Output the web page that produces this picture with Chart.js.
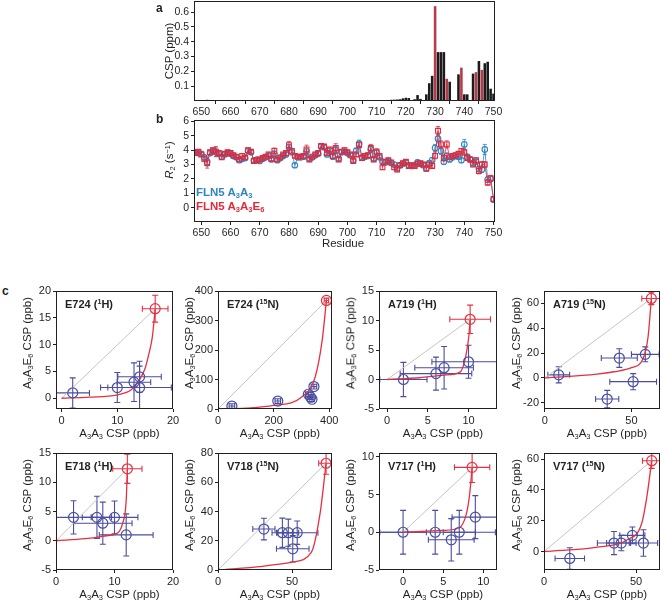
<!DOCTYPE html>
<html>
<head>
<meta charset="utf-8">
<script src="https://cdn.jsdelivr.net/npm/chart.js"></script>
<style>
  body { margin: 0; width: 662px; height: 602px; overflow: hidden; background: #fff; position: relative;
         font-family: 'Liberation Sans', Arial, sans-serif; color: #231f20; }
  .box { position: absolute; }
  .t { position: absolute; white-space: nowrap; line-height: 1; transform: translate(0, -50%); }
  .ctr { position: absolute; white-space: nowrap; line-height: 1; transform: translate(-50%, -50%); }
  .rot { position: absolute; white-space: nowrap; line-height: 1; transform: translate(-50%, -50%) rotate(-90deg); }
  sub { font-size: 0.65em; vertical-align: -0.3em; line-height: 0; }
  sup { font-size: 0.65em; vertical-align: 0.45em; line-height: 0; }
  .ttl { font-weight: bold; font-size: 11px; }
  .ax { font-size: 11.5px; }
</style>
</head>
<body>
<script>
// ---------- panel a / b : per-residue data (residues 648..750) ----------
const residues = [];
for (let r = 648; r <= 750; r++) residues.push(r);

// CSP (ppm)
const csp = [
  .004,.003,.002,.006,.008,.005,.006,.004,.003,.002,
  .004,.007,.003,.002,.003,.002,.004,.003,.002,.003,
  .002,.004,.003,.002,.003,.004,.002,.003,.002,.004,
  .003,.006,.005,.004,.003,.002,.004,.003,.002,.005,
  .003,.002,.003,.004,.003,.002,.003,.004,.003,.002,
  .004,.003,.003,.004,.002,.003,.002,.003,.004,.007,
  .006,.004,.003,.005,.004,.006,.006,.008,.009,.010,
  .012,.018,.022,.020,.006,.012,.040,.014,.004,.045,
  .120,.170,.640,.330,.330,.330,.150,.130,0,0,
  .180,.225,.045,.045,0,.185,.195,.270,.210,.255,
  .265,.083,.050
];
const cspRedResidues = [730, 734, 739, 744, 746];

// R2 (s-1)
const r2Blue = [
  3.85,3.8,3.75,3.5,3.2,3.8,3.95,3.85,3.75,3.55,
  3.7,3.8,3.75,3.6,3.5,3.3,3.4,3.45,3.95,3.85,
  3.3,3.35,3.25,3.4,3.5,3.6,3.35,3.75,3.3,3.45,
  3.6,3.7,4.2,3.85,2.95,3.5,3.5,3.55,3.9,3.4,
  3.5,3.65,3.75,4.25,4.2,3.7,3.95,3.55,4.0,3.4,
  3.85,3.9,3.8,3.65,3.3,3.95,4.45,3.5,3.55,3.6,
  4.05,3.4,3.8,3.5,3.2,3.15,3.25,3.1,3.0,2.75,
  2.95,3.05,3.15,2.95,2.9,2.95,3.15,3.05,2.95,2.75,
  3.1,3.3,4.15,4.8,3.95,3.2,3.6,3.35,3.5,3.6,
  3.55,3.3,4.4,3.55,3.35,3.1,3.2,2.7,2.65,4.05,
  1.95,2.0,0.55
];
const r2BlueErr = [
  .15,.15,.12,.2,.3,.15,.15,.3,.12,.15,
  .12,.15,.12,.12,.15,.12,.15,.12,.15,.12,
  .12,.12,.15,.12,.15,.15,.12,.2,.12,.15,
  .12,.15,.2,.15,.15,.12,.12,.12,.25,.12,
  .12,.15,.12,.15,.15,.12,.15,.15,.25,.12,
  .15,.15,.15,.12,.12,.2,.25,.12,.12,.15,
  .2,.12,.2,.15,.15,.15,.12,.12,.15,.15,
  .12,.12,.15,.12,.12,.12,.15,.12,.12,.15,
  .15,.2,.25,.3,.25,.2,.2,.15,.15,.15,
  .15,.15,.35,.15,.15,.15,.15,.2,.2,.35,
  .2,.2,.15
];
const r2Red = [
  3.8,3.9,3.7,3.4,3.1,3.85,4.0,3.9,3.8,3.5,
  3.75,3.85,3.8,3.65,3.55,3.35,3.6,3.5,4.0,3.9,
  3.25,3.3,3.35,3.45,3.55,3.7,3.4,3.95,3.35,3.5,
  3.7,3.8,4.35,3.95,3.6,3.55,3.55,3.6,4.05,3.35,
  3.55,3.7,3.8,4.3,4.25,3.8,4.05,3.6,4.15,3.35,
  3.9,4.0,3.85,3.7,3.25,3.7,4.35,3.45,3.6,3.65,
  4.15,3.35,3.9,3.6,2.8,3.2,3.3,3.15,2.8,2.65,
  2.95,3.1,3.2,2.9,2.95,2.9,3.05,3.1,3.0,2.7,
  3.0,2.9,3.6,5.35,4.4,3.45,4.4,3.5,3.6,3.65,
  3.75,3.95,3.85,3.45,3.35,3.0,3.3,2.55,3.0,3.0,
  1.75,2.05,0.6
];
const r2RedErr = [
  .15,.15,.12,.2,.35,.15,.15,.35,.12,.15,
  .12,.15,.12,.12,.15,.12,.15,.12,.15,.12,
  .12,.12,.15,.12,.15,.15,.12,.2,.12,.15,
  .12,.15,.25,.15,.12,.12,.12,.12,.3,.12,
  .12,.15,.12,.15,.15,.12,.15,.15,.3,.12,
  .15,.15,.15,.12,.12,.15,.2,.12,.12,.15,
  .25,.12,.2,.15,.15,.15,.12,.12,.15,.15,
  .12,.12,.15,.12,.12,.12,.15,.12,.12,.15,
  .15,.15,.2,.3,.25,.2,.25,.15,.15,.15,
  .15,.15,.2,.15,.15,.15,.15,.2,.2,.2,
  .2,.2,.15
];

const residueTicks = [650, 660, 670, 680, 690, 700, 710, 720, 730, 740, 750];
const cspTicks = [0.1, 0.2, 0.3, 0.4, 0.5, 0.6];
const r2Ticks = [0, 1, 2, 3, 4, 5, 6];

// ---------- panel c : [x, y, xErr, yErr] per point, fit curve [x, y] ----------
const e724H_blue = [[2,1,3,2.8],[10,2,3,2.8],[13,3,3,3.6],[14,4,3.9,2.9],[14,2,5.7,4]];
const e724H_red = [16.8,16.7,2.3,2.5];
const e724H_fit = [[0,0],[5,0.2],[10,0.65],[12.5,1.6],[14,3.5],[15,5.6],[15.7,8.4],[16.3,11.5],[16.8,16.7]];
const e724H_xTicks = [0,10,20], e724H_yTicks = [0,5,10,15,20];

const e724N_blue = [[50,10,10,8],[215,27,10,8],[325,50,10,8],[333,40,8,8],[338,33,8,8],[345,76,10,8]];
const e724N_red = [390,368,8,8];
const e724N_fit = [[0,0],[100,3],[200,12],[300,40],[350,110],[375,235],[390,368]];
const e724N_xTicks = [0,200,400], e724N_yTicks = [0,100,200,300,400];

const a719H_blue = [[2,0,2.9,2.9],[6,1,4.4,2.8],[7,2,3.6,3.6],[10,3,4.5,2.8]];
const a719H_red = [10.2,10.2,2.5,2.4];
const a719H_fit = [[0,0],[4,0.3],[7,0.75],[9,1.3],[9.5,3],[9.8,5],[10.05,7.5],[10.2,10.2]];
const a719H_xTicks = [0,5,10], a719H_yTicks = [-5,0,5,10,15];

const a719N_blue = [[8,2.5,6.3,6.5],[43,16,10.4,7.5],[58,19,8,6],[51,-3,13.5,6.5],[36,-17,6.7,7]];
const a719N_red = [61.5,64,5.5,5];
const a719N_fit = [[0,0],[30,3],[40,5],[50,8.3],[56.7,15.5],[59.6,33],[61.5,64]];
const a719N_xTicks = [0,50], a719N_yTicks = [-20,0,20,40,60];

const e718H_blue = [[3,4,3.2,2.85],[7,4,2.5,3.6],[8,3,5,3.6],[10,4,4,2.8],[12,1,4.6,3.6]];
const e718H_red = [12.2,12.3,2.5,2.5];
const e718H_fit = [[0,0],[5,0.35],[9,0.9],[10,1.1],[11.4,3],[12,6.9],[12.2,12.3]];
const e718H_xTicks = [0,10,20], e718H_yTicks = [-5,0,5,10,15];

const v718N_blue = [[31,28,7.5,7.4],[43.5,25.5,7,10],[47.5,25.5,7,9.3],[53.5,25.5,14,8],[50.5,14.5,11,9]];
const v718N_red = [73,73,5,7.5];
const v718N_fit = [[0,0],[30,2.5],[40,3.8],[50,5.4],[63,12],[69,39],[73,73]];
const v718N_xTicks = [0,50], v718N_yTicks = [0,20,40,60,80];

const v717H_blue = [[0,0,2.9,2.9],[4,0,7.5,2.9],[6,-1,2.85,2.8],[7,0,2,2.9],[9,2,2.9,2.85]];
const v717H_red = [8.6,8.6,2.2,2.0];
const v717H_fit = [[0,0],[5,0.25],[7,0.6],[7.9,2.5],[8.3,5.1],[8.6,8.6]];
const v717H_xTicks = [0,5,10], v717H_yTicks = [-5,0,5,10];

const v717N_blue = [[14,-4.5,8,7],[38,5.5,9,7.5],[42,5.5,8,5],[48,10.5,6.8,5.4],[54,5.5,7.7,8.6]];
const v717N_red = [58.5,59,5,5];
const v717N_fit = [[0,0],[30,3],[45,7.5],[53,18],[55.8,35],[58.5,59]];
const v717N_xTicks = [0,50], v717N_yTicks = [0,20,40,60];

// ---------- styling ----------
const INK = '#231f20';
const BAR_BLACK = '#1c1a1b', BAR_RED = '#b8394a';
const B_BLUE = '#2f84c3', B_RED = '#e2293b';
const C_BLUE = '#4a4e9f', C_RED = '#e5303f', C_GREY = '#c4c4c4';

Chart.defaults.font.family = "'Liberation Sans', Arial, sans-serif";
Chart.defaults.color = INK;
Chart.defaults.animation = false;
Chart.defaults.plugins.legend.display = false;
Chart.defaults.plugins.tooltip.enabled = false;

// box round the plot area
const frame = {
  id: 'frame',
  afterDraw(chart) {
    const a = chart.chartArea, ctx = chart.ctx;
    ctx.save();
    ctx.strokeStyle = INK;
    ctx.lineWidth = 1;
    ctx.strokeRect(a.left + 0.5, a.top + 0.5, a.right - a.left - 1, a.bottom - a.top - 1);
    ctx.restore();
  }
};

// error bars from dataset.errX / dataset.errY, drawn through the chart scales
const errorBars = {
  id: 'errorBars',
  beforeDatasetsDraw(chart) {
    const { ctx, chartArea: a, scales: { x, y } } = chart;
    ctx.save();
    ctx.beginPath();
    ctx.rect(a.left, a.top, a.right - a.left, a.bottom - a.top);
    ctx.clip();
    for (let di = chart.data.datasets.length - 1; di >= 0; di--) {
      const ds = chart.data.datasets[di];
      if (!ds.errX && !ds.errY) continue;
      const cap = ds.cap || 3;
      ctx.strokeStyle = ds.borderColor;
      ctx.lineWidth = ds.errWidth || 1;
      ds.data.forEach((p, i) => {
        if (p.y == null) return;
        const px = x.getPixelForValue(p.x), py = y.getPixelForValue(p.y);
        ctx.beginPath();
        if (ds.errY) {
          const e = ds.errY[i];
          const y1 = y.getPixelForValue(p.y - e), y2 = y.getPixelForValue(p.y + e);
          ctx.moveTo(px, y1); ctx.lineTo(px, y2);
          ctx.moveTo(px - cap, y1); ctx.lineTo(px + cap, y1);
          ctx.moveTo(px - cap, y2); ctx.lineTo(px + cap, y2);
        }
        if (ds.errX) {
          const e = ds.errX[i];
          const x1 = x.getPixelForValue(p.x - e), x2 = x.getPixelForValue(p.x + e);
          ctx.moveTo(x1, py); ctx.lineTo(x2, py);
          ctx.moveTo(x1, py - cap); ctx.lineTo(x1, py + cap);
          ctx.moveTo(x2, py - cap); ctx.lineTo(x2, py + cap);
        }
        ctx.stroke();
      });
    }
    ctx.restore();
  }
};

function axis(range, ticks, fontSize) {
  return {
    type: 'linear', min: range[0], max: range[1], offset: false,
    afterBuildTicks: s => { s.ticks = ticks.map(v => ({ value: v })); },
    ticks: { font: { size: fontSize }, padding: 2, color: INK, maxRotation: 0, autoSkip: false },
    grid: { drawOnChartArea: false, drawTicks: true, tickLength: 3, color: INK, lineWidth: 1 },
    border: { display: false }
  };
}

// place a chart so that its plot area is exactly box {L,T,R,B} on the page
function mount(box, yw, xh, pt, pr, config) {
  const W = box.R - box.L + yw + pr, H = box.B - box.T + pt + xh;
  const div = document.createElement('div');
  div.className = 'box';
  div.style.left = (box.L - yw) + 'px';
  div.style.top = (box.T - pt) + 'px';
  const cv = document.createElement('canvas');
  cv.width = W; cv.height = H;
  cv.style.width = W + 'px'; cv.style.height = H + 'px';
  div.appendChild(cv);
  document.body.appendChild(div);
  const o = config.options;
  o.responsive = false;
  o.devicePixelRatio = 1;
  o.layout = { autoPadding: false, padding: { top: pt, right: pr, left: 0, bottom: 0 } };
  o.scales.x.afterFit = s => { s.height = xh; s.paddingLeft = s.paddingRight = s.paddingTop = s.paddingBottom = 0; };
  o.scales.y.afterFit = s => { s.width = yw; s.paddingLeft = s.paddingRight = s.paddingTop = s.paddingBottom = 0; };
  config.plugins = [errorBars, frame];
  return new Chart(cv, config);
}

function text(cls, x, y, html, style) {
  const d = document.createElement('div');
  d.className = cls;
  d.style.left = x + 'px';
  d.style.top = y + 'px';
  if (style) d.style.cssText += style;
  d.innerHTML = html;
  document.body.appendChild(d);
}

// ---------- panel a ----------
mount({ L: 194, T: 1, R: 495, B: 101 }, 40, 16, 1, 12, {
  type: 'bar',
  data: {
    datasets: [{
      data: residues.map((r, i) => ({ x: r, y: csp[i] })),
      backgroundColor: residues.map(r => cspRedResidues.includes(r) ? BAR_RED : BAR_BLACK),
      barPercentage: 0.88, categoryPercentage: 1
    }]
  },
  options: { scales: { x: axis([647.5, 750.5], residueTicks, 10.5), y: axis([0, 0.675], cspTicks, 10.5) } }
});

// ---------- panel b ----------
mount({ L: 194, T: 120, R: 495, B: 222 }, 40, 16, 8, 12, {
  type: 'line',
  data: {
    datasets: [
      { data: residues.map((r, i) => ({ x: r, y: r2Red[i] })), errY: r2RedErr, cap: 2, errWidth: 0.8,
        borderColor: B_RED, backgroundColor: 'rgba(255,255,255,0)', borderWidth: 0.8,
        pointStyle: 'rect', pointRadius: 3.4, pointBorderWidth: 1.1 },
      { data: residues.map((r, i) => ({ x: r, y: r2Blue[i] })), errY: r2BlueErr, cap: 2, errWidth: 0.8,
        borderColor: B_BLUE, backgroundColor: 'rgba(255,255,255,0)', borderWidth: 0.8,
        pointStyle: 'circle', pointRadius: 2.8, pointBorderWidth: 1.1 }
    ]
  },
  options: { scales: { x: axis([647.5, 750.5], residueTicks, 10.5), y: axis([-1, 6.1], r2Ticks, 10.5) } }
});

// ---------- panel c ----------
function cPanel(box, xr, yr, xt, yt, blue, red, fit) {
  const pts = a => a.map(p => ({ x: p[0], y: p[1] }));
  mount(box, 44, 30, 8, 12, {
    type: 'scatter',
    data: {
      datasets: [
        { data: pts([red]), errX: [red[2]], errY: [red[3]], cap: 3, errWidth: 1.1,
          borderColor: C_RED, backgroundColor: 'rgba(255,255,255,0)', pointRadius: 5, borderWidth: 1.2 },
        { data: pts(blue), errX: blue.map(p => p[2]), errY: blue.map(p => p[3]), cap: 3, errWidth: 1.1,
          borderColor: C_BLUE, backgroundColor: 'rgba(255,255,255,0)', pointRadius: 5, borderWidth: 1.2 },
        { data: pts(fit), showLine: true, borderColor: C_RED, borderWidth: 1.3, pointRadius: 0,
          cubicInterpolationMode: 'monotone' },
        { data: [{ x: 0, y: 0 }, { x: red[0], y: red[1] }], showLine: true, borderColor: C_GREY,
          borderWidth: 1, pointRadius: 0 }
      ]
    },
    options: { scales: { x: axis(xr, xt, 11), y: axis(yr, yt, 11) } }
  });
}

const boxes = [
  { L: 56, T: 291, R: 173, B: 409 }, { L: 218, T: 291, R: 332, B: 409 },
  { L: 379, T: 291, R: 497, B: 409 }, { L: 544, T: 291, R: 660, B: 409 },
  { L: 56, T: 453, R: 173, B: 570 }, { L: 218, T: 453, R: 332, B: 570 },
  { L: 379, T: 453, R: 497, B: 570 }, { L: 544, T: 453, R: 660, B: 570 }
];
cPanel(boxes[0], [-1, 20], [-2, 20], e724H_xTicks, e724H_yTicks, e724H_blue, e724H_red, e724H_fit);
cPanel(boxes[1], [0, 410], [0, 400], e724N_xTicks, e724N_yTicks, e724N_blue, e724N_red, e724N_fit);
cPanel(boxes[2], [-1, 13.5], [-5, 15], a719H_xTicks, a719H_yTicks, a719H_blue, a719H_red, a719H_fit);
cPanel(boxes[3], [-0.5, 66.5], [-25, 70], a719N_xTicks, a719N_yTicks, a719N_blue, a719N_red, a719N_fit);
cPanel(boxes[4], [0, 20], [-5, 15], e718H_xTicks, e718H_yTicks, e718H_blue, e718H_red, e718H_fit);
cPanel(boxes[5], [0, 77], [0, 80], v718N_xTicks, v718N_yTicks, v718N_blue, v718N_red, v718N_fit);
cPanel(boxes[6], [-3, 11.7], [-5, 10.5], v717H_xTicks, v717H_yTicks, v717H_blue, v717H_red, v717H_fit);
cPanel(boxes[7], [0, 63], [-12, 64], v717N_xTicks, v717N_yTicks, v717N_blue, v717N_red, v717N_fit);

// ---------- text ----------
text('t', 156, 8, 'a', 'font-weight:bold;font-size:12px');
text('t', 156, 119, 'b', 'font-weight:bold;font-size:12px');
text('t', 2, 291, 'c', 'font-weight:bold;font-size:12px');
text('rot ax', 170, 51, 'CSP (ppm)');
text('rot ax', 170, 160, '<i>R</i><sub>2</sub> (s<sup>&minus;1</sup>)');
text('ctr ax', 343, 244, 'Residue');
text('t', 196, 193, 'FLN5 A<sub>3</sub>A<sub>3</sub>', 'font-weight:bold;font-size:11.5px;color:' + B_BLUE);
text('t', 196, 207, 'FLN5 A<sub>3</sub>A<sub>3</sub>E<sub>6</sub>', 'font-weight:bold;font-size:11.5px;color:' + B_RED);

const cTitles = ['E724 (<sup>1</sup>H)', 'E724 (<sup>15</sup>N)', 'A719 (<sup>1</sup>H)', 'A719 (<sup>15</sup>N)',
                 'E718 (<sup>1</sup>H)', 'V718 (<sup>15</sup>N)', 'V717 (<sup>1</sup>H)', 'V717 (<sup>15</sup>N)'];
boxes.forEach((b, i) => {
  text('t ttl', b.L + 9, b.T + 13, cTitles[i]);
  const yOff = (i % 4 === 3) ? 27 : 28;
  text('rot ax', b.L - yOff, (b.T + b.B) / 2 - 7, 'A<sub>3</sub>A<sub>3</sub>E<sub>6</sub> CSP (ppb)');
  text('ctr ax', (b.L + b.R) / 2 + 5, b.B + 25, 'A<sub>3</sub>A<sub>3</sub> CSP (ppb)');
});
</script>
</body>
</html>
